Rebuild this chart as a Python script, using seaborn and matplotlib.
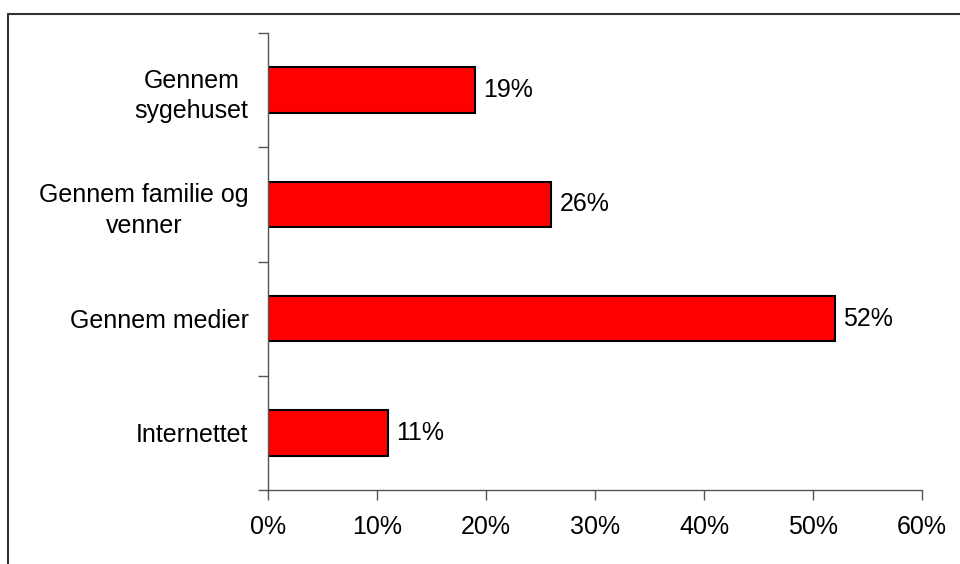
import seaborn as sns
import matplotlib.pyplot as plt
import matplotlib.lines as mlines
import pandas as pd
import numpy as np

# -------------- DONNEES -------------------#
kategorier = ["Gennem\nsygehuset", "Gennem familie og\nvenner", "Gennem medier", "Internettet"]
andele = [19, 26, 52, 11]
x_ticks = [0, 10, 20, 30, 40, 50, 60]

sns.set_theme(style='white')
plt.rcParams['font.family'] = ['Liberation Sans', 'DejaVu Sans']

df = pd.DataFrame({'kategori': kategorier, 'andel': andele})

fig = plt.figure(figsize=(9.6, 5.64), dpi=100)
ax = fig.add_axes([268 / 960, 1 - 490 / 564, (922 - 268) / 960, (490 - 33) / 564])

sns.barplot(data=df, x='andel', y='kategori', orient='h', color='#ff0000',
            edgecolor='black', linewidth=1.5, width=0.4, saturation=1, ax=ax)

for i, v in enumerate(andele):
    ax.annotate(f'{v}%', xy=(v, i), xytext=(6, 0), textcoords='offset points',
                ha='left', va='center', fontsize=18, color='black')

ax.set_xlim(0, 60)
ax.set_ylim(len(kategorier) - 0.5, -0.5)
ax.set_xticks(x_ticks)
ax.set_xticklabels([f'{t}%' for t in x_ticks], fontsize=18, color='black')
ax.set_yticks(range(len(kategorier)))
ax.set_yticklabels(kategorier, fontsize=18, color='black', multialignment='center', linespacing=1.35)
ax.set_yticks(np.arange(-0.5, len(kategorier)), minor=True)
ax.tick_params(axis='y', which='major', length=0, pad=14)
ax.tick_params(axis='y', which='minor', length=7, width=1, color='#555555', direction='out', left=True)
ax.tick_params(axis='x', which='major', length=7, width=1, color='#555555', direction='out', bottom=True, pad=11)
ax.set_xlabel('')
ax.set_ylabel('')

for s in ['top', 'right']:
    ax.spines[s].set_visible(False)
for s in ['left', 'bottom']:
    ax.spines[s].set_color('#555555')
    ax.spines[s].set_linewidth(1)

# cadre autour du graphique
fig.add_artist(mlines.Line2D([8 / 960, 1], [1 - 14 / 564, 1 - 14 / 564], color='#333333', lw=1.5))
fig.add_artist(mlines.Line2D([8 / 960, 8 / 960], [0, 1 - 14 / 564], color='#333333', lw=1.5))

plt.savefig('out.png', dpi=100)
plt.close()
